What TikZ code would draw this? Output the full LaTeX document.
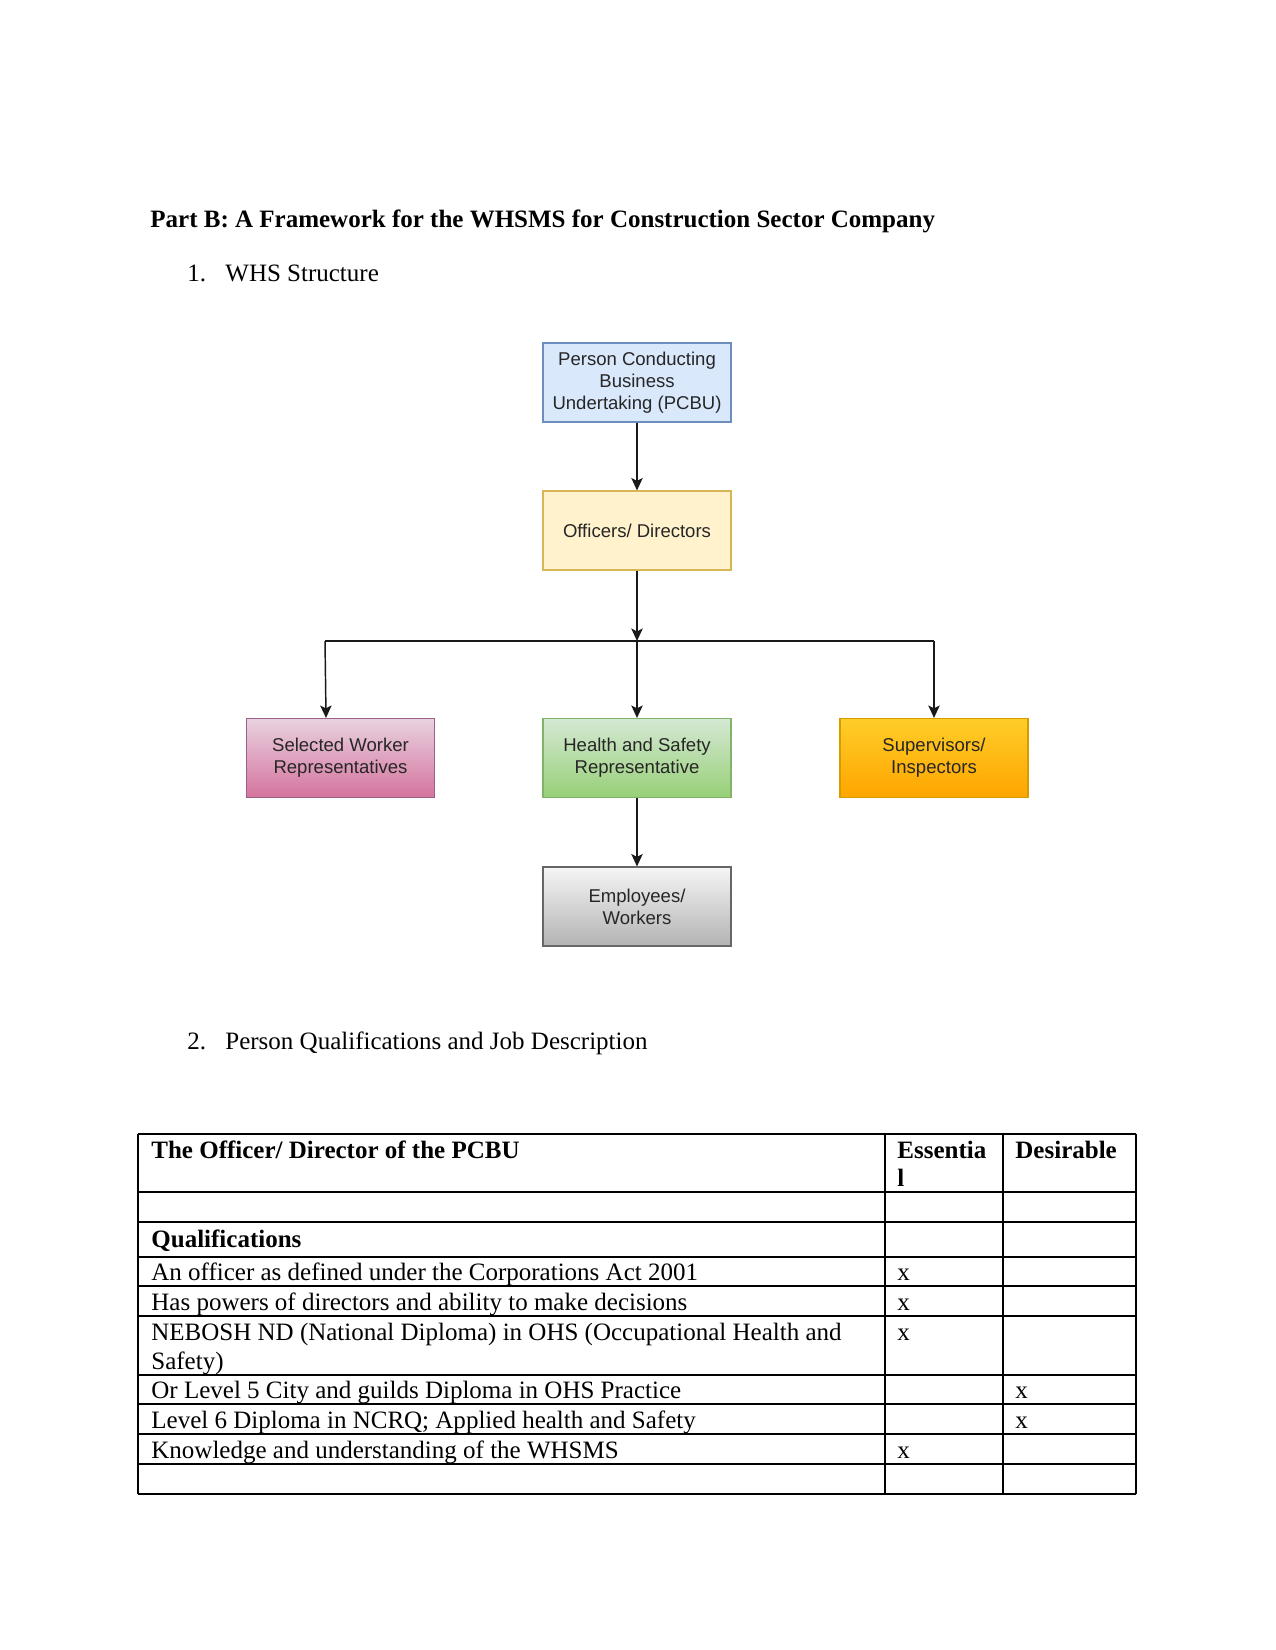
\documentclass[tikz,border=0pt]{standalone}
\usepackage{fontspec}
\setmainfont{Liberation Serif}
\newfontfamily\boxfont{Liberation Sans}
\usetikzlibrary{arrows.meta}
\definecolor{pcbuF}{HTML}{DAE8FC}\definecolor{pcbuD}{HTML}{6C8EBF}
\definecolor{offF}{HTML}{FFF2CC}\definecolor{offD}{HTML}{D6B656}
\definecolor{swT}{HTML}{E8D2E0}\definecolor{swB}{HTML}{D5739D}\definecolor{swD}{HTML}{996185}
\definecolor{hsT}{HTML}{D5E8D4}\definecolor{hsB}{HTML}{97D077}\definecolor{hsD}{HTML}{82B366}
\definecolor{siT}{HTML}{FFCD28}\definecolor{siB}{HTML}{FFA500}\definecolor{siD}{HTML}{D79B00}
\definecolor{ewT}{HTML}{F5F5F5}\definecolor{ewB}{HTML}{B3B3B3}\definecolor{ewD}{HTML}{666666}
\definecolor{boxtext}{HTML}{262626}
\tikzset{
  orgbox/.style={draw, line width=0.55pt, minimum width=90.2pt, minimum height=37.9pt,
    inner sep=0pt, align=center, text=boxtext,
    font=\boxfont\fontsize{8.9}{10.6}\selectfont},
  conn/.style={line width=0.7pt, draw=black!90},
  arr/.style={conn, -{Stealth[length=6pt,width=5.5pt,inset=1.4pt]}},
  txt/.style={anchor=base west, inner sep=0pt, font=\fontsize{12}{14}\selectfont},
  btxt/.style={txt, font=\fontsize{12}{14}\selectfont\bfseries},
  grid/.style={line width=0.6pt, draw=black},
  thickgrid/.style={line width=1.2pt, draw=black}
}
\begin{document}
\begin{tikzpicture}[x=0.48pt, y=-0.48pt]
\path[use as bounding box, fill=white] (0,0) rectangle (1275,1650);

% headings
\node[btxt] (title) at (150,228) {Part B: A Framework for the WHSMS for Construction Sector Company};
\node[txt] (n1) at (187,282) {1.};
\node[txt] (h1) at (225,282) {WHS Structure};
\node[txt] (n2) at (187,1049) {2.};
\node[txt] (h2) at (225,1049) {Person Qualifications and Job Description};

% org chart
\node[orgbox, fill=pcbuF, draw=pcbuD] (pcbu) at (637,382.5) {Person Conducting\\Business\\Undertaking (PCBU)};
\node[orgbox, fill=offF, draw=offD] (off) at (637,530.5) {Officers/ Directors};
\node[orgbox, top color=swT, bottom color=swB, draw=swD] (sw) at (340.5,758) {Selected Worker\\Representatives};
\node[orgbox, top color=hsT, bottom color=hsB, draw=hsD] (hs) at (637,758) {Health and Safety\\Representative};
\node[orgbox, top color=siT, bottom color=siB, draw=siD] (si) at (934,758) {Supervisors/\\Inspectors};
\node[orgbox, top color=ewT, bottom color=ewB, draw=ewD] (ew) at (637,906.5) {Employees/\\Workers};

\coordinate (j) at (637,641);
\coordinate (jl) at (325,641);
\coordinate (jr) at (934,641);

\draw[arr] (pcbu) -- (off);
\draw[arr] (off) -- (j);
\draw[conn] (jl) -- (jr);
\draw[arr] (j) -- (hs);
\draw[arr] (jl) -- ([xshift=0.5pt]jl |- sw.north);
\draw[arr] (jr) -- (si);
\draw[arr] (hs) -- (ew);

% table grid
\foreach \yy in {1134,1192,1222,1286,1316,1375,1404,1434,1464,1494}
  \draw[grid] (138,\yy) -- (1136,\yy);
\draw[thickgrid] (138,1257) -- (1136,1257);
\foreach \xx in {138,885,1003,1136}
  \draw[grid] (\xx,1134) -- (\xx,1494);

% table text
\node[btxt] (t0) at (151,1158) {The Officer/ Director of the PCBU};
\node[btxt] (t0e) at (897,1158) {Essentia};
\node[btxt] (t0e2) at (897,1186) {l};
\node[btxt] (t0d) at (1015,1158) {Desirable};
\node[btxt] (tq) at (151,1247) {Qualifications};

\node[txt] (r1) at (151,1280) {An officer as defined under the Corporations Act 2001};
\node[txt] (r1x) at (897,1280) {x};
\node[txt] (r2) at (151,1310) {Has powers of directors and ability to make decisions};
\node[txt] (r2x) at (897,1310) {x};
\node[txt] (r3) at (151,1340) {NEBOSH ND (National Diploma) in OHS (Occupational Health and};
\node[txt] (r3b) at (151,1369) {Safety)};
\node[txt] (r3x) at (897,1340) {x};
\node[txt] (r4) at (151,1398) {Or Level 5 City and guilds Diploma in OHS Practice};
\node[txt] (r4x) at (1015,1398) {x};
\node[txt] (r5) at (151,1428) {Level 6 Diploma in NCRQ; Applied health and Safety};
\node[txt] (r5x) at (1015,1428) {x};
\node[txt] (r6) at (151,1458) {Knowledge and understanding of the WHSMS};
\node[txt] (r6x) at (897,1458) {x};
\end{tikzpicture}
\end{document}
